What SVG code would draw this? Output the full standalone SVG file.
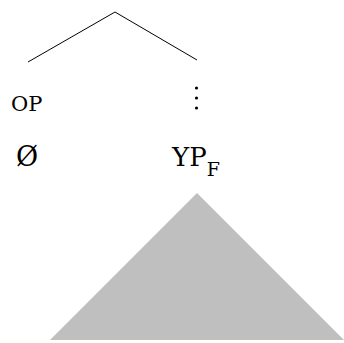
<svg xmlns="http://www.w3.org/2000/svg" width="344" height="343" viewBox="0 0 344 343">
<style>
.t{font-family:"DejaVu Serif","Liberation Serif",serif;fill:#000}
.e{stroke:#000;stroke-width:1;fill:none}
</style>
<rect width="344" height="343" fill="#fff"/>
<g id="edges">
<line class="e" x1="115" y1="12" x2="28" y2="62"/>
<line class="e" x1="115" y1="12" x2="197" y2="60"/>
</g>
<g id="op"><text class="t" x="11" y="111" font-size="21">OP</text></g>
<g id="dots" fill="#000">
<circle cx="196.5" cy="88" r="1.6"/>
<circle cx="196.5" cy="98" r="1.6"/>
<circle cx="196.5" cy="108" r="1.6"/>
</g>
<g id="null"><text class="t" x="16" y="166" font-size="27">Ø</text></g>
<g id="yp"><text class="t" x="172" y="166" font-size="26">YP<tspan font-size="19" dy="10">F</tspan></text></g>
<g id="triangle"><polygon points="197,193 50,340 344,340" fill="#bfbfbf"/></g>
</svg>
